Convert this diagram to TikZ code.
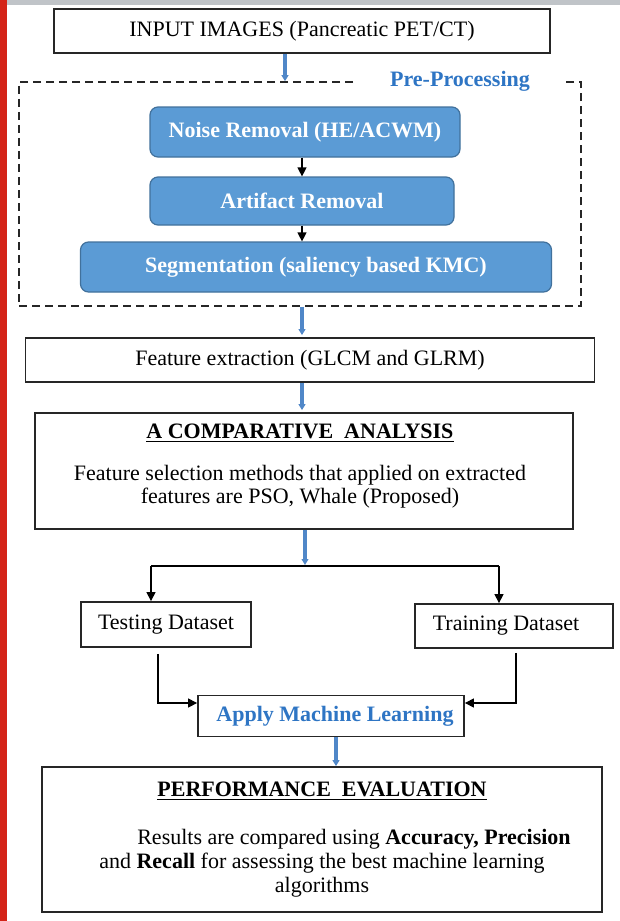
\documentclass[tikz,border=0pt]{standalone}
\usepackage{fontspec}
\setmainfont{Liberation Serif}
\usetikzlibrary{arrows.meta,positioning,calc}
\definecolor{boxblue}{RGB}{91,155,213}
\definecolor{boxedge}{RGB}{65,113,156}
\definecolor{arrowblue}{RGB}{80,135,200}
\definecolor{labelblue}{RGB}{46,117,196}
\definecolor{sidebarred}{RGB}{212,36,24}
\definecolor{topgray}{RGB}{192,196,200}

\begin{document}
\begin{tikzpicture}[x=0.5pt,y=-0.5pt,
  font=\fontsize{11}{12}\selectfont,
  plainbox/.style={draw=black!85,line width=0.9pt,inner sep=0pt,align=center},
  stagebox/.style={draw=boxedge,line width=0.6pt,fill=boxblue,rounded corners=4pt,
    text=white,font=\fontsize{11}{12}\selectfont\bfseries,inner sep=0pt},
  bluearrow/.style={arrowblue,line width=1.6pt,-{Triangle[length=3pt,width=3.4pt]}},
  blackarrow/.style={black,line width=0.6pt,-{Triangle[length=4.5pt,width=4.5pt]}}]
  \useasboundingbox (0,0) rectangle (620,921);
  \fill[white] (0,0) rectangle (620,921);
  % screen edge of the source page
  \fill[sidebarred] (0,0) rectangle (7,921);
  \fill[topgray] (7,0) rectangle (620,5);

  \node[plainbox,minimum width=248pt,minimum height=22pt] (inbox) at (302,31)
    {INPUT IMAGES (Pancreatic PET/CT)};

  % pre-processing group
  \node[draw=black!85,line width=0.8pt,dash pattern=on 4pt off 2.5pt,
    minimum width=281pt,minimum height=112pt] (pre) at (300,194) {};
  \node[fill=white,text=labelblue,font=\fontsize{11}{12}\selectfont\bfseries,
    inner xsep=17pt,inner ysep=1pt] (prelabel) at (460,81) {Pre-Processing};
  \node[stagebox,minimum width=155pt,minimum height=25pt] (noise) at (305,132)
    {Noise Removal (HE/ACWM)};
  \node[stagebox,minimum width=152pt,minimum height=24pt] (artifact) at (302,201)
    {Artifact Removal};
  \node[stagebox,minimum width=235.5pt,minimum height=25pt] (segment) at (316,267)
    {Segmentation (saliency based KMC)};

  \node[plainbox,minimum width=284.5pt,minimum height=22pt] (featx) at (310,360)
    {Feature extraction (GLCM and GLRM)};

  \node[plainbox,minimum width=269pt,minimum height=58pt] (compare) at (304,471) {};
  \node[align=center,font=\fontsize{11}{11.5}\selectfont] (comparetext) at (300,466)
    {\underline{\textbf{A COMPARATIVE\ \ ANALYSIS}}\\[9.5pt]
     Feature selection methods that applied on extracted\\
     features are PSO, Whale (Proposed)};

  \coordinate (split) at (305,566);
  \coordinate (splitL) at (151,566);
  \coordinate (splitR) at (499,566);

  \node[plainbox,minimum width=85pt,minimum height=22.5pt] (testing) at (166,624.5)
    {Testing Dataset};
  \node[plainbox,minimum width=99pt,minimum height=22pt] (training) at (514,626)
    {\hspace*{-8pt}Training Dataset};
  \node[plainbox,minimum width=133pt,minimum height=20.5pt,text=labelblue,
    font=\fontsize{11}{12}\selectfont\bfseries] (apply) at (331,716)
    {\hspace*{4pt}Apply Machine Learning};

  \node[plainbox,minimum width=280pt,minimum height=72.5pt] (perf) at (322,839.5)
    {\underline{\textbf{PERFORMANCE\ \ EVALUATION}}\\[12pt]
     \hspace*{32pt}Results are compared using \textbf{Accuracy, Precision}\\
     and \textbf{Recall} for assessing the best machine learning\\
     algorithms};

  % connectors
  \draw[bluearrow] ($(inbox.south)+(-17,0)$) -- ($(pre.north)+(-15,0)$);
  \draw[blackarrow] ($(noise.south)+(-3,0)$) -- (artifact.north);
  \draw[blackarrow] (artifact.south) -- ($(segment.north)+(-14,0)$);
  \draw[bluearrow] ($(pre.south)+(2,0)$) -- ($(featx.north)+(-8,-2)$);
  \draw[bluearrow] ($(featx.south)+(-8,0)$) -- ($(compare.north)+(-2,-2)$);
  \draw[bluearrow] ($(compare.south)+(1,0)$) -- ($(split)+(0,-1)$);
  \draw[black,line width=0.6pt] (splitL) -- (splitR);
  \draw[blackarrow] (splitL) -- (splitL |- testing.north);
  \draw[blackarrow] (splitR) -- (splitR |- training.north);
  \draw[blackarrow] ($(testing.south)+(-8,6)$) |- ($(apply.west)+(0,-13)$);
  \draw[blackarrow] ($(training.south)+(2,4)$) |- ($(apply.east)+(0,-13)$);
  \draw[bluearrow] ($(apply.south)+(5,0)$) -- ($(perf.north)+(14,0)$);
\end{tikzpicture}
\end{document}
